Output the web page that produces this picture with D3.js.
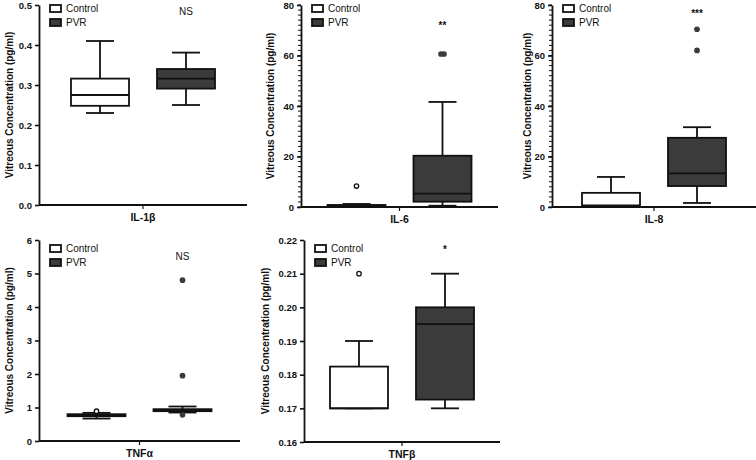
<!DOCTYPE html>
<html><head><meta charset="utf-8">
<script src="https://cdn.jsdelivr.net/npm/d3@7"></script>
<style>body{margin:0;background:#fff}svg{display:block;font-family:"Liberation Sans",Arial,sans-serif}</style>
</head><body><svg id="c" width="756" height="460"></svg>
<script>
// ---- data ----
const groups = ["Control", "PVR"];
const cytokines = ["IL-1β", "IL-6", "IL-8", "TNFα", "TNFβ"];
// [min, q1, median, q3, max]
const controlStats = [
  [0.23, 0.248, 0.275, 0.316, 0.41],
  [0, 0.3, 0.5, 0.8, 1.2],
  [0, 0.2, 0.6, 5.6, 11.9],
  [0.67, 0.74, 0.77, 0.8, 0.84],
  [0.17, 0.17, 0.17, 0.1824, 0.19]
];
const pvrStats = [
  [0.25, 0.291, 0.316, 0.34, 0.381],
  [0.5, 2.1, 5.3, 20.3, 41.6],
  [1.6, 8.3, 13.3, 27.4, 31.6],
  [0.85, 0.89, 0.93, 0.95, 1.03],
  [0.17, 0.1726, 0.195, 0.2, 0.21]
];
const controlOutliers = [[], [8.3], [], [0.89], [0.21]];
const pvrOutliers = [[], [60.6, 60.6], [62.0, 70.4], [4.8, 1.95, 0.78], []];
const significance = ["NS", "**", "***", "NS", "*"];
const significanceLevel = [0.485, 72, 76.5, 5.5, 0.2173];
const yDomains = [[0, 0.5], [0, 80], [0, 80], [0, 6], [0.16, 0.22]];
const yTickValues = [
  [0, 0.1, 0.2, 0.3, 0.4, 0.5],
  [0, 20, 40, 60, 80],
  [0, 20, 40, 60, 80],
  [0, 1, 2, 3, 4, 5, 6],
  [0.16, 0.17, 0.18, 0.19, 0.20, 0.21, 0.22]
];
const yTickFormats = [".1f", "d", "d", "d", ".2f"];
const minorStep = [null, 2, 2, null, null];
const yLabel = "Vitreous Concentration  (pg/ml)";

// ---- layout ----
const layout = [
  {l: 39, r: 247, t: 5, b: 205, lx: 9},
  {l: 301, r: 498, t: 5, b: 207, lx: 270},
  {l: 552, r: 756, t: 5, b: 207, lx: 527},
  {l: 39, r: 240, t: 240, b: 441, lx: 9},
  {l: 304, r: 500, t: 240, b: 442, lx: 265}
];
const ink = "#111";
const dark = "#3b3b3b";
const fills = {Control: "#fff", PVR: dark};
const sw = 1.8;

const svg = d3.select("#c");

cytokines.forEach((name, i) => {
  const L = layout[i];
  const g = svg.append("g");
  const y = d3.scaleLinear().domain(yDomains[i]).range([L.b, L.t]);
  const tickX = (L.l + L.r) / 2;
  const x = d3.scalePoint().domain(groups).range([tickX - 43, tickX + 43]);
  const bw = 58;

  // minor ticks
  if (minorStep[i]) {
    const minors = d3.range(yDomains[i][0], yDomains[i][1] + 1e-9, minorStep[i]);
    g.selectAll("line.minor").data(minors).join("line")
      .attr("x1", L.l - 3).attr("x2", L.l)
      .attr("y1", d => y(d)).attr("y2", d => y(d))
      .attr("stroke", ink).attr("stroke-width", 1);
  }
  // y axis
  const ya = g.append("g").attr("transform", `translate(${L.l},0)`)
    .call(d3.axisLeft(y).tickValues(yTickValues[i]).tickFormat(d3.format(yTickFormats[i])).tickSize(4).tickSizeOuter(0));
  ya.select(".domain").attr("stroke", ink).attr("stroke-width", sw);
  ya.selectAll(".tick line").attr("stroke", ink).attr("stroke-width", 1.6);
  ya.selectAll(".tick text").attr("font-size", 9.5).attr("font-weight", "bold").attr("fill", ink).attr("x", -7);

  // x axis
  g.append("line").attr("x1", L.l).attr("x2", L.r).attr("y1", L.b).attr("y2", L.b)
    .attr("stroke", ink).attr("stroke-width", sw);
  g.append("line").attr("x1", tickX).attr("x2", tickX).attr("y1", L.b).attr("y2", L.b + 4)
    .attr("stroke", ink).attr("stroke-width", 1.2);
  g.append("text").attr("x", tickX).attr("y", L.b + 16).attr("text-anchor", "middle")
    .attr("font-size", 10.5).attr("font-weight", "bold").attr("fill", ink).text(name);

  // y label
  g.append("text").attr("transform", `translate(${L.lx},${(L.t + L.b) / 2}) rotate(-90)`)
    .attr("text-anchor", "middle").attr("dy", "0.35em")
    .attr("font-size", 10).attr("font-weight", "bold").attr("fill", ink).text(yLabel);

  // boxes
  const boxes = [
    {grp: "Control", s: controlStats[i], out: controlOutliers[i]},
    {grp: "PVR", s: pvrStats[i], out: pvrOutliers[i]}
  ];
  boxes.forEach(bx => {
    const cx = x(bx.grp);
    const [mn, q1, md, q3, mx] = bx.s;
    const bg = g.append("g");
    bg.append("line").attr("x1", cx).attr("x2", cx).attr("y1", y(q3)).attr("y2", y(mx)).attr("stroke", ink).attr("stroke-width", sw);
    bg.append("line").attr("x1", cx).attr("x2", cx).attr("y1", y(q1)).attr("y2", y(mn)).attr("stroke", ink).attr("stroke-width", sw);
    [mn, mx].forEach(v => bg.append("line").attr("x1", cx - 14).attr("x2", cx + 14).attr("y1", y(v)).attr("y2", y(v)).attr("stroke", ink).attr("stroke-width", sw));
    bg.append("rect").attr("x", cx - bw / 2).attr("width", bw)
      .attr("y", y(q3)).attr("height", Math.max(0.5, y(q1) - y(q3)))
      .attr("fill", fills[bx.grp]).attr("stroke", ink).attr("stroke-width", sw);
    bg.append("line").attr("x1", cx - bw / 2).attr("x2", cx + bw / 2).attr("y1", y(md)).attr("y2", y(md)).attr("stroke", ink).attr("stroke-width", sw);
    const seen = {};
    bx.out.forEach(v => {
      const k = seen[v] || 0; seen[v] = k + 1;
      const dup = bx.out.filter(o => o === v).length;
      const off = dup > 1 ? (k - (dup - 1) / 2) * 3 : 0;
      bg.append("circle").attr("cx", cx + off).attr("cy", y(v)).attr("r", 2.2)
        .attr("fill", bx.grp === "Control" ? "#fff" : dark).attr("stroke", bx.grp === "Control" ? ink : dark).attr("stroke-width", 1.3);
    });
  });

  // significance
  g.append("text").attr("x", x("PVR")).attr("y", y(significanceLevel[i])).attr("dy", "0.35em")
    .attr("text-anchor", "middle").attr("font-size", 10).attr("fill", ink)
    .attr("font-weight", significance[i] === "NS" ? "normal" : "bold").text(significance[i]);

  // legend
  const lg = g.append("g").attr("transform", `translate(${L.l + 11},${L.t + (i >= 3 ? 5 : 0)})`);
  groups.forEach((gr, j) => {
    lg.append("rect").attr("x", 0).attr("y", j * 14).attr("width", 11).attr("height", 7)
      .attr("fill", fills[gr]).attr("stroke", ink).attr("stroke-width", sw);
    lg.append("text").attr("x", 16).attr("y", j * 14 + 3.5).attr("dy", "0.35em")
      .attr("font-size", 10).attr("fill", ink).text(gr);
  });
});
</script></body></html>
